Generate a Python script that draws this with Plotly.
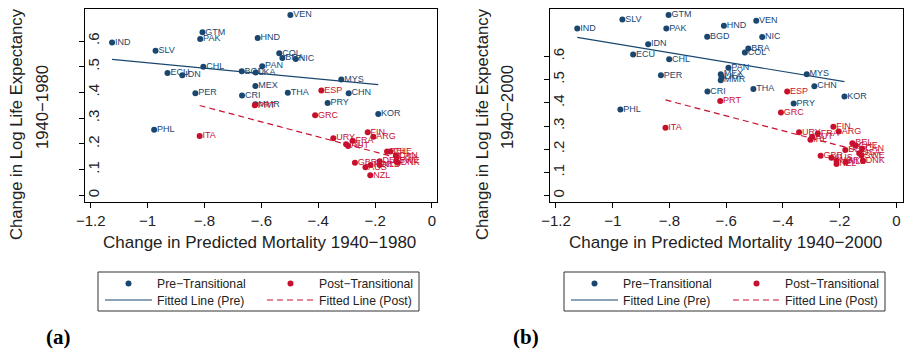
import numpy as np
import plotly.graph_objects as go

W, H = 904, 351
BLUE = "#1a476f"
RED = "#c8102e"
FONT = "Liberation Sans, Arial, sans-serif"

# ---------------- Panel (a): 1940-1980 ----------------
pre80_iso = ["IND", "SLV", "GTM", "PAK", "HND", "VEN", "COL", "BRA", "NIC", "PAN",
             "CHL", "ECU", "IDN", "BGD", "LKA", "MYS", "MEX", "THA", "CHN", "PER",
             "CRI", "MMR", "PRY", "KOR", "PHL"]
pre80_x = [-1.125, -0.972, -0.807, -0.815, -0.613, -0.498, -0.537, -0.526, -0.479, -0.597,
           -0.804, -0.930, -0.878, -0.669, -0.620, -0.319, -0.621, -0.507, -0.293, -0.832,
           -0.668, -0.621, -0.367, -0.189, -0.977]
pre80_y = [0.594, 0.562, 0.634, 0.608, 0.612, 0.701, 0.552, 0.534, 0.530, 0.502,
           0.500, 0.476, 0.467, 0.482, 0.478, 0.450, 0.425, 0.399, 0.397, 0.397,
           0.388, 0.354, 0.359, 0.316, 0.255]

post80_iso = ["ESP", "PRT", "GRC", "ITA", "FIN", "ARG", "URY", "FRA", "IRL", "AUT",
              "BEL", "CHE", "CAN", "USA", "SWE", "DNK", "DEU", "GBR", "NOR", "NLD",
              "AUS", "NZL"]
post80_x = [-0.389, -0.623, -0.411, -0.817, -0.226, -0.206, -0.347, -0.279, -0.302, -0.295,
            -0.158, -0.147, -0.127, -0.124, -0.126, -0.120, -0.184, -0.271, -0.216, -0.184,
            -0.234, -0.217]
post80_y = [0.408, 0.350, 0.311, 0.231, 0.245, 0.228, 0.222, 0.212, 0.199, 0.192,
            0.170, 0.170, 0.155, 0.148, 0.133, 0.127, 0.133, 0.127, 0.118, 0.118,
            0.109, 0.078]

# ---------------- Panel (b): 1940-2000 ----------------
pre00_iso = ["IND", "SLV", "GTM", "PAK", "HND", "VEN", "BGD", "NIC", "IDN", "BRA",
             "COL", "ECU", "CHL", "PAN", "PER", "MEX", "LKA", "MMR", "MYS", "CHN",
             "THA", "CRI", "PRY", "KOR", "PHL"]
pre00_x = [-1.125, -0.966, -0.803, -0.811, -0.608, -0.494, -0.667, -0.473, -0.875, -0.522,
           -0.534, -0.928, -0.801, -0.592, -0.830, -0.619, -0.616, -0.619, -0.316, -0.289,
           -0.504, -0.666, -0.362, -0.183, -0.973]
pre00_y = [0.721, 0.760, 0.779, 0.721, 0.733, 0.754, 0.685, 0.684, 0.653, 0.635,
           0.617, 0.609, 0.588, 0.552, 0.519, 0.524, 0.511, 0.498, 0.524, 0.472,
           0.460, 0.449, 0.397, 0.427, 0.371]

post00_iso = ["ESP", "PRT", "GRC", "ITA", "FIN", "ARG", "URY", "FRA", "AUT", "IRL",
              "BEL", "CHE", "CAN", "DEU", "USA", "SWE", "GBR", "AUS", "NOR", "NLD",
              "NZL", "DNK"]
post00_x = [-0.385, -0.621, -0.407, -0.814, -0.222, -0.203, -0.343, -0.277, -0.297, -0.303,
            -0.155, -0.143, -0.121, -0.180, -0.131, -0.123, -0.267, -0.229, -0.211, -0.178,
            -0.211, -0.118]
post00_y = [0.449, 0.408, 0.358, 0.293, 0.297, 0.277, 0.273, 0.268, 0.254, 0.241,
            0.226, 0.216, 0.203, 0.197, 0.183, 0.173, 0.172, 0.163, 0.150, 0.145,
            0.136, 0.150]

x_tickvals = [-1.2, -1.0, -0.8, -0.6, -0.4, -0.2, 0.0]
x_ticktext = ["\u22121.2", "\u22121", "\u2212.8", "\u2212.6", "\u2212.4", "\u2212.2", "0"]
y_tickvals = [0.0, 0.1, 0.2, 0.3, 0.4, 0.5, 0.6]
y_ticktext = ["0", ".1", ".2", ".3", ".4", ".5", ".6"]


def px_x(v):
    return v / W


def px_y(v):
    return 1 - v / H


def fit_line(x, y):
    x = np.asarray(x)
    y = np.asarray(y)
    slope, intercept = np.polyfit(x, y, 1)
    xs = np.array([x.min(), x.max()])
    return xs, intercept + slope * xs


fig = go.Figure()

panels = [
    dict(xa="x", ya="y", leg=("legend", "legend2"),
         pre=(pre80_iso, pre80_x, pre80_y), post=(post80_iso, post80_x, post80_y)),
    dict(xa="x2", ya="y2", leg=("legend3", "legend4"),
         pre=(pre00_iso, pre00_x, pre00_y), post=(post00_iso, post00_x, post00_y)),
]

for p in panels:
    groups = [("Pre\u2212Transitional", "Fitted Line (Pre)", BLUE, "solid", p["pre"]),
              ("Post\u2212Transitional", "Fitted Line (Post)", RED, "6px,4px", p["post"])]
    # fitted lines first so points sit on top
    for name, fname, col, dash, (iso, xs, ys) in groups:
        fx, fy = fit_line(xs, ys)
        fig.add_trace(go.Scatter(x=fx, y=fy, mode="lines", name=fname,
                                 line=dict(color=col, width=1.2, dash=dash),
                                 xaxis=p["xa"], yaxis=p["ya"], legend=p["leg"][1]))
    # country codes, offset to the right of each dot
    for name, fname, col, dash, (iso, xs, ys) in groups:
        fig.add_trace(go.Scatter(x=xs, y=ys, mode="markers+text", text=iso,
                                 textposition="middle right",
                                 marker=dict(size=3, color="rgba(0,0,0,0)"),
                                 textfont=dict(family=FONT, size=9, color=col),
                                 showlegend=False, hoverinfo="skip",
                                 xaxis=p["xa"], yaxis=p["ya"]))
    for name, fname, col, dash, (iso, xs, ys) in groups:
        fig.add_trace(go.Scatter(x=xs, y=ys, mode="markers", name=name,
                                 marker=dict(color=col, size=6),
                                 xaxis=p["xa"], yaxis=p["ya"], legend=p["leg"][0]))

axis_common = dict(showline=True, mirror=True, linecolor="black", linewidth=1,
                   ticks="outside", ticklen=5, tickcolor="black", tickwidth=1,
                   showgrid=False, zeroline=False, automargin=False,
                   tickfont=dict(family=FONT, size=15, color="#222"))

ydom = [px_y(202), px_y(9)]

fig.update_layout(
    width=W, height=H,
    margin=dict(l=0, r=0, t=0, b=0),
    paper_bgcolor="white", plot_bgcolor="white",
    font=dict(family=FONT, color="#222"),
    xaxis=dict(domain=[px_x(85), px_x(437)], range=[-1.2201, 0.0176],
               tickvals=x_tickvals, ticktext=x_ticktext, anchor="y", **axis_common),
    yaxis=dict(domain=ydom, range=[-0.0259, 0.7245], tickangle=-90,
               ticklabelstandoff=-26,
               tickvals=y_tickvals, ticktext=y_ticktext, anchor="x", **axis_common),
    xaxis2=dict(domain=[px_x(550), px_x(903)], range=[-1.2211, 0.0234],
                tickvals=x_tickvals, ticktext=x_ticktext, anchor="y2", **axis_common),
    yaxis2=dict(domain=ydom, range=[-0.0276, 0.805], tickangle=-90,
                ticklabelstandoff=-26,
                tickvals=y_tickvals, ticktext=y_ticktext, anchor="x2", **axis_common),
)

# legends: one row per legend, two columns each
leg_common = dict(orientation="h", xanchor="left", yanchor="middle",
                  bgcolor="rgba(0,0,0,0)", borderwidth=0, itemwidth=47,
                  entrywidthmode="pixels", entrywidth=100,
                  font=dict(family=FONT, size=12.2, color="#222"))
leg_boxes = [(98, 419), (564, 885)]
legend_names = [("legend", "legend2"), ("legend3", "legend4")]
for (bx0, bx1), (l1, l2) in zip(leg_boxes, legend_names):
    fig.update_layout({l1: dict(x=px_x(bx0 + 2), y=px_y(283.5), **leg_common),
                       l2: dict(x=px_x(bx0 + 2), y=px_y(300), **leg_common)})
    fig.add_shape(type="rect", xref="paper", yref="paper",
                  x0=px_x(bx0), x1=px_x(bx1), y0=px_y(311), y1=px_y(272),
                  line=dict(color="#333", width=1), fillcolor="rgba(0,0,0,0)")

annots = []
# x-axis titles
for cx, yr in [(259, "1980"), (725, "2000")]:
    annots.append(dict(x=px_x(cx), y=px_y(242), xref="paper", yref="paper",
                       text="Change in Predicted Mortality 1940\u2212" + yr,
                       showarrow=False, xanchor="center", yanchor="middle",
                       font=dict(family=FONT, size=17, color="#222")))
# y-axis titles (two lines each)
for x1, x2, yr in [(17, 43, "1980"), (483, 508, "2000")]:
    annots.append(dict(x=px_x(x1), y=px_y(124), xref="paper", yref="paper",
                       text="Change in Log Life Expectancy", textangle=-90,
                       showarrow=False, xanchor="center", yanchor="middle",
                       font=dict(family=FONT, size=16.7, color="#222")))
    annots.append(dict(x=px_x(x2), y=px_y(107), xref="paper", yref="paper",
                       text="1940\u2212" + yr, textangle=-90,
                       showarrow=False, xanchor="center", yanchor="middle",
                       font=dict(family=FONT, size=16.7, color="#222")))
# panel letters
for cx, lab in [(58, "(a)"), (526, "(b)")]:
    annots.append(dict(x=px_x(cx), y=px_y(337), xref="paper", yref="paper",
                       text="<b>" + lab + "</b>", showarrow=False,
                       xanchor="center", yanchor="middle",
                       font=dict(family="Liberation Serif, Times New Roman, serif",
                                 size=21, color="black")))
fig.update_layout(annotations=annots)

fig.write_html("out.html")
